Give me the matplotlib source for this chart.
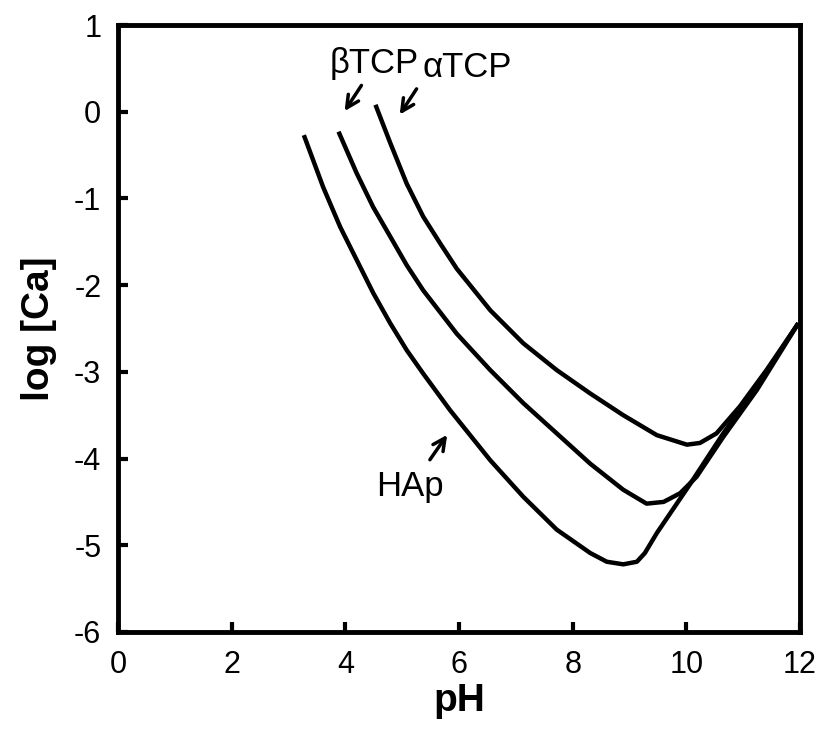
import numpy as np
import matplotlib
matplotlib.use("Agg")
import matplotlib.pyplot as plt

plt.rcParams['font.family'] = ['Liberation Sans', 'DejaVu Sans']
plt.rcParams['axes.unicode_minus'] = False

# HAp
hap_ph = [3.27, 3.61, 3.91, 4.20, 4.49, 4.79, 5.08, 5.37, 5.84, 6.55, 7.13, 7.72, 8.31, 8.60,
          8.89, 9.13, 9.27, 9.48, 10.07, 10.65, 11.24, 11.97]
hap_ca = [-0.27, -0.87, -1.33, -1.71, -2.09, -2.44, -2.75, -3.02, -3.44, -4.02, -4.44, -4.82, -5.09, -5.19,
          -5.22, -5.19, -5.09, -4.86, -4.29, -3.71, -3.17, -2.44]

# beta-TCP
btcp_ph = [3.88, 4.20, 4.49, 4.79, 5.08, 5.37, 5.96, 6.55, 7.13, 7.72, 8.31, 8.89, 9.30, 9.60,
           9.89, 10.18, 10.65, 11.24, 11.97]
btcp_ca = [-0.23, -0.71, -1.10, -1.44, -1.77, -2.06, -2.56, -2.98, -3.36, -3.71, -4.06, -4.36, -4.52, -4.50,
           -4.40, -4.21, -3.75, -3.21, -2.44]

# alpha-TCP
atcp_ph = [4.53, 4.79, 5.08, 5.37, 5.67, 5.96, 6.55, 7.13, 7.72, 8.31, 8.89, 9.48, 10.01, 10.24,
           10.53, 10.94, 11.41, 11.97]
atcp_ca = [0.08, -0.36, -0.83, -1.21, -1.52, -1.81, -2.29, -2.67, -2.98, -3.25, -3.50, -3.73, -3.84, -3.82,
           -3.71, -3.40, -2.98, -2.44]

fig = plt.figure(figsize=(8.24, 7.29), dpi=100)
ax = fig.add_axes([0.1432, 0.1331, 0.8277, 0.8326])

for xs, ys in [(hap_ph, hap_ca), (btcp_ph, btcp_ca), (atcp_ph, atcp_ca)]:
    ax.plot(xs, ys, color='black', lw=3.2, solid_capstyle='butt', solid_joinstyle='round')

ax.set_xlim(0, 12)
ax.set_ylim(-6, 1)
ax.set_xticks(np.arange(0, 13, 2))
ax.set_yticks(np.arange(-6, 2, 1))
ax.tick_params(direction='in', length=7, width=3, labelsize=22, pad=13)
ax.tick_params(axis='y', pad=12)
for s in ax.spines.values():
    s.set_linewidth(3.5)

ax.set_xlabel('pH', fontsize=28, fontweight='bold', labelpad=2)
ax.set_ylabel('log [Ca]', fontsize=28, fontweight='bold', labelpad=12)

arrow = dict(arrowstyle='->', lw=2.5, color='black', mutation_scale=22)
ax.annotate('', xy=(3.96, -0.02), xytext=(4.31, 0.33), arrowprops=arrow)
ax.annotate('', xy=(4.93, -0.06), xytext=(5.28, 0.29), arrowprops=arrow)
ax.annotate('', xy=(5.82, -3.70), xytext=(5.46, -4.04), arrowprops=arrow)

ax.text(3.72, 0.45, 'βTCP', fontsize=25, ha='left', va='baseline')
ax.text(5.35, 0.40, 'αTCP', fontsize=25, ha='left', va='baseline')
ax.text(4.55, -4.43, 'HAp', fontsize=25, ha='left', va='baseline')

fig.savefig('out.png', dpi=100)
